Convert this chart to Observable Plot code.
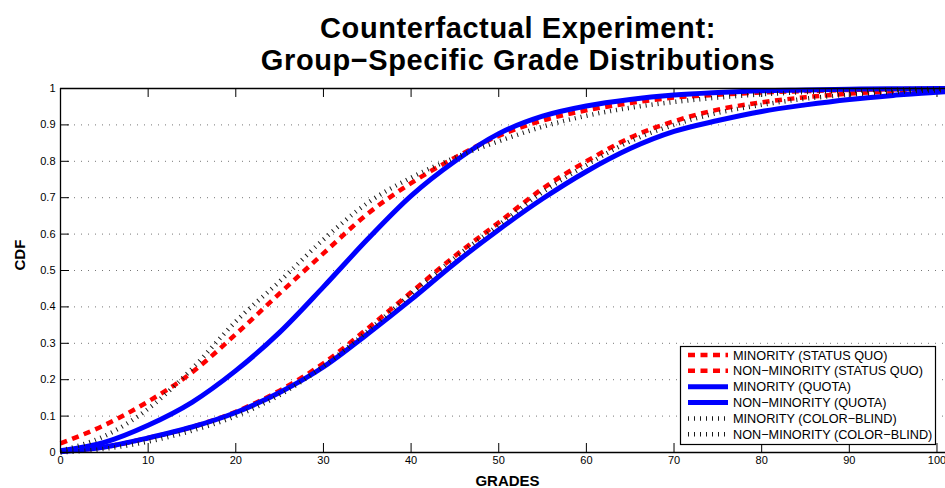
<!DOCTYPE html>
<html><head><meta charset="utf-8">
<script src="https://cdn.jsdelivr.net/npm/d3@7"></script>
<script src="https://cdn.jsdelivr.net/npm/@observablehq/plot@0.6"></script>
<style>
html,body{margin:0;padding:0;background:#fff;overflow:hidden;width:945px;height:488px}
#wrap{position:relative;width:945px;height:488px;overflow:hidden;font-family:"Liberation Sans",Arial,sans-serif}
#title{position:absolute;left:0;top:12px;width:1036px;text-align:center;font-weight:bold;font-size:29px;letter-spacing:0.6px;line-height:32px;color:#000;white-space:nowrap}
#chart{position:absolute;left:0;top:78px;width:954px}
#chart svg{overflow:hidden;max-width:none !important}
</style></head>
<body><div id="wrap"><div id="title">Counterfactual Experiment:<br>Group−Specific Grade Distributions</div><div id="chart"></div></div>
<script>
// ---- data ----
const grades = [0,5,10,15,20,25,30,35,40,45,50,55,60,65,70,75,80,85,90,95,100,102];
const minoritySQ      = [0.025,0.075,0.14,0.22,0.325,0.437,0.547,0.655,0.74,0.81,0.87,0.912,0.94,0.96,0.975,0.983,0.989,0.993,0.996,0.998,0.999,0.999];
const nonMinoritySQ   = [0.003,0.015,0.04,0.07,0.112,0.17,0.245,0.34,0.44,0.54,0.632,0.725,0.80,0.865,0.91,0.942,0.962,0.976,0.986,0.992,0.996,0.997];
const minorityQuota   = [0.005,0.028,0.075,0.138,0.225,0.33,0.455,0.585,0.705,0.80,0.876,0.924,0.952,0.97,0.982,0.989,0.994,0.996,0.998,0.999,1.0,1.0];
const nonMinorityQuota= [0.002,0.015,0.04,0.07,0.11,0.165,0.235,0.325,0.42,0.52,0.612,0.697,0.772,0.835,0.882,0.912,0.937,0.955,0.97,0.981,0.99,0.992];
const minorityCB      = [0.005,0.045,0.12,0.23,0.36,0.47,0.585,0.685,0.755,0.81,0.855,0.895,0.925,0.947,0.963,0.975,0.984,0.99,0.994,0.997,0.999,0.999];
const nonMinorityCB   = [0.0,0.01,0.03,0.06,0.1,0.158,0.237,0.333,0.435,0.535,0.625,0.715,0.79,0.855,0.9,0.933,0.955,0.972,0.983,0.99,0.995,0.996];
const seriesNames = ["MINORITY (STATUS QUO)","NON−MINORITY (STATUS QUO)","MINORITY (QUOTA)","NON−MINORITY (QUOTA)","MINORITY (COLOR−BLIND)","NON−MINORITY (COLOR−BLIND)"];
const xTicks = [0,10,20,30,40,50,60,70,80,90,100];
const yTicks = [0,0.1,0.2,0.3,0.4,0.5,0.6,0.7,0.8,0.9,1];
const yGrid = [0.1,0.2,0.3,0.4,0.5,0.6,0.7,0.8,0.9];

const values = [minoritySQ,nonMinoritySQ,minorityQuota,nonMinorityQuota,minorityCB,nonMinorityCB];
const styles = [
  {stroke:"#ff0000", strokeWidth:4.5, strokeDasharray:"7,5.5"},
  {stroke:"#ff0000", strokeWidth:4.5, strokeDasharray:"7,5.5"},
  {stroke:"#0000ff", strokeWidth:5},
  {stroke:"#0000ff", strokeWidth:5},
  {stroke:"#1a1a1a", strokeWidth:4.5, strokeDasharray:"1,5"},
  {stroke:"#1a1a1a", strokeWidth:4.5, strokeDasharray:"1,5"}
];
const series = seriesNames.map((name,k)=>({name, style:styles[k], rows: grades.map((g,i)=>({grade:g, cdf:values[k][i]}))}));

const tx = 1.027, ty = 0.0247; // inward tick lengths (~9px) in data units
const plot = Plot.plot({
  width: 954, height: 410, marginTop: 10, marginBottom: 36, marginLeft: 60, marginRight: 0,
  x: {domain: [0, 102]},
  y: {domain: [0, 1]},
  style: {fontFamily: "Liberation Sans, Arial, sans-serif", fontSize: "11px", color: "#000", background: "#fff", maxWidth: "none"},
  marks: [
    Plot.gridY(yGrid, {stroke: "#777", strokeOpacity: 1, strokeDasharray: "1,6"}),
    Plot.axisX(xTicks, {tickSize: 0, tickPadding: 4, label: null}),
    Plot.axisY(yTicks, {tickSize: 0, tickPadding: 5, label: null, tickFormat: d => String(d)}),
    Plot.ruleX(xTicks, {y1: 0, y2: ty, stroke: "#000"}),
    Plot.ruleX(xTicks, {y1: 1 - ty, y2: 1, stroke: "#000"}),
    Plot.ruleY(yTicks, {x1: 0, x2: tx, stroke: "#000"}),
    ...series.map(s => Plot.line(s.rows, {x: "grade", y: "cdf", curve: "monotone-x", strokeLinecap: "butt", ...s.style})),
    Plot.ruleY([0, 1], {stroke: "#000", strokeWidth: 1.3}),
    Plot.ruleX([0], {stroke: "#000", strokeWidth: 1.3}),
    Plot.text(["GRADES"], {frameAnchor: "bottom", dy: 29, lineAnchor: "middle", fontWeight: "bold", fontSize: 15}),
    Plot.text(["CDF"], {frameAnchor: "left", dx: -40, rotate: -90, fontWeight: "bold", fontSize: 15})
  ]
});
document.getElementById("chart").appendChild(plot);

// legend (inside plot, lower right)
const svg = d3.select(plot);
const lg = svg.append("g").attr("font-family","Liberation Sans, Arial, sans-serif").attr("font-size", 12.7).attr("text-anchor","start");
const bx = 680, by = 268, bw = 255, bh = 98;
lg.append("rect").attr("x",bx+0.5).attr("y",by+0.5).attr("width",bw).attr("height",bh).attr("fill","#fff").attr("stroke","#000").attr("stroke-width",1.2);
series.forEach((s,i)=>{
  const yy = by + 9 + i*15.85;
  const ln = lg.append("line").attr("x1",bx+8).attr("x2",bx+48).attr("y1",yy).attr("y2",yy)
    .attr("stroke",s.style.stroke).attr("stroke-width",s.style.strokeWidth).attr("stroke-linecap","butt");
  if (s.style.strokeDasharray) ln.attr("stroke-dasharray", s.style.strokeDasharray);
  lg.append("text").attr("x",bx+53).attr("y",yy).attr("dy","0.36em").attr("fill","#000").attr("text-anchor","start").text(s.name);
});
</script>
</body></html>
